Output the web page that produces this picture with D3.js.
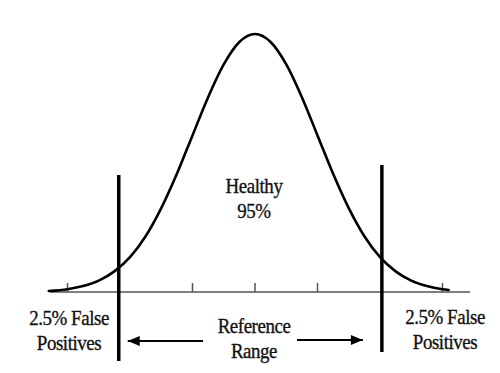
<!doctype html>
<html>
<head>
<meta charset="utf-8">
<style>
  body { margin: 0; background: #fff; }
</style>
</head>
<body>
<svg width="500" height="373"></svg>
<script src="https://cdnjs.cloudflare.com/ajax/libs/d3/7.8.5/d3.min.js"></script>
<script>
// curve: position in sd units, height relative to the peak
var curveZ = [-3.3, -3, -2.75, -2.5, -2.25, -2, -1.75, -1.5, -1.25, -1, -0.75, -0.5, -0.25, 0,
              0.25, 0.5, 0.75, 1, 1.25, 1.5, 1.75, 2, 2.25, 2.5, 2.75, 3, 3.1];
var curveH = [0.004, 0.011, 0.023, 0.044, 0.08, 0.135, 0.216, 0.325, 0.458, 0.607, 0.755, 0.882, 0.969, 1,
              0.969, 0.882, 0.755, 0.607, 0.458, 0.325, 0.216, 0.135, 0.08, 0.044, 0.023, 0.011, 0.008];
var ticks = [-3, -1, 0, 1, 3];
var cutoffs = [-2.18, 2.03];
var sideLabels = [["2.5% False", "Positives"], ["2.5% False", "Positives"]];
var middleLabel = ["Reference", "Range"];
var centerLabel = ["Healthy", "95%"];

var svg = d3.select("svg");

var x = d3.scaleLinear().domain([-3.28, 3.44]).range([50, 470]);
var y = d3.scaleLinear().domain([0, 1]).range([292, 34]);

var pts = curveZ.map(function(z, i) { return [z, curveH[i]]; });

// axis baseline
svg.append("line")
    .attr("x1", x.range()[0]).attr("x2", x.range()[1])
    .attr("y1", y(0)).attr("y2", y(0))
    .attr("stroke", "#555")
    .attr("stroke-width", 1.5);

svg.selectAll(".tick")
  .data(ticks)
  .enter().append("line")
    .attr("class", "tick")
    .attr("x1", function(d) { return x(d); })
    .attr("x2", function(d) { return x(d); })
    .attr("y1", y(0))
    .attr("y2", y(0) - 9)
    .attr("stroke", "#555")
    .attr("stroke-width", 1.5);

// bell curve
var line = d3.line()
    .x(function(d) { return x(d[0]); })
    .y(function(d) { return y(d[1]); })
    .curve(d3.curveMonotoneX);

svg.append("path")
    .datum(pts)
    .attr("fill", "none")
    .attr("stroke", "#000")
    .attr("stroke-width", 2.6)
    .attr("stroke-linecap", "round")
    .attr("d", line);

// cutoff lines
var tops = [175, 165];
svg.selectAll(".cut")
  .data(cutoffs)
  .enter().append("line")
    .attr("class", "cut")
    .attr("x1", function(d) { return x(d); })
    .attr("x2", function(d) { return x(d); })
    .attr("y1", function(d, i) { return tops[i]; })
    .attr("y2", function(d, i) { return i == 0 ? 361 : 352; })
    .attr("stroke", "#000")
    .attr("stroke-width", 3.5);

// arrows
svg.append("defs").append("marker")
    .attr("id", "head")
    .attr("viewBox", "0 0 12 10")
    .attr("refX", 12).attr("refY", 5)
    .attr("markerUnits", "userSpaceOnUse")
    .attr("markerWidth", 13).attr("markerHeight", 10)
    .attr("orient", "auto")
  .append("path")
    .attr("d", "M0,0L12,5L0,10Z")
    .attr("fill", "#000");

svg.append("line")
    .attr("x1", 203).attr("x2", x(cutoffs[0]) + 9)
    .attr("y1", 341).attr("y2", 341)
    .attr("stroke", "#000").attr("stroke-width", 2)
    .attr("marker-end", "url(#head)");

svg.append("line")
    .attr("x1", 297).attr("x2", x(cutoffs[1]) - 19)
    .attr("y1", 340).attr("y2", 340)
    .attr("stroke", "#000").attr("stroke-width", 2)
    .attr("marker-end", "url(#head)");

// labels - serif, squeezed horizontally like the original
function block(lines, cx, y0, dy) {
  lines.forEach(function(t, i) {
    svg.append("text")
      .attr("transform", "translate(" + cx + "," + (y0 + i * dy) + ") scale(0.86,1)")
      .attr("text-anchor", "middle")
      .style("font-family", "'Liberation Serif', 'Times New Roman', Times, serif")
      .style("font-size", "22px")
      .style("letter-spacing", "-0.5px")
      .style("fill", "#111")
      .style("stroke", "#111")
      .style("stroke-width", "0.35px")
      .text(t);
  });
}

block(centerLabel, 254, 193, 25);
block(sideLabels[0], 69, 325, 25);
block(sideLabels[1], 445, 324, 25);
block(middleLabel, 254, 333, 25);
</script>
</body>
</html>
